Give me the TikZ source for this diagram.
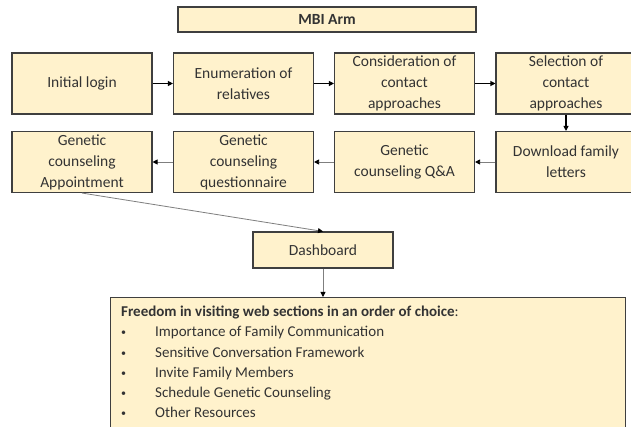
\documentclass[tikz,border=0pt]{standalone}
\usepackage{fontspec}
\setmainfont{Carlito}
\usetikzlibrary{arrows.meta}
\definecolor{boxfill}{HTML}{FFF2CC}
\definecolor{boxline}{HTML}{3F3F3F}
\definecolor{txt}{HTML}{333333}
\definecolor{lgray}{HTML}{7F7F7F}
\newcommand{\mybul}{\makebox[34pt][l]{\raisebox{1pt}{\fontsize{10}{10}\selectfont\textbullet}}}
\begin{document}
\begin{tikzpicture}[x=1pt,y=-1pt,
  box/.style={draw=boxline, fill=boxfill, line width=1.1pt, minimum width=140pt, minimum height=61pt,
    align=center, font=\fontsize{15.5}{21}\selectfont, text=txt, inner sep=0pt},
  arr/.style={-{Triangle[length=5pt,width=5pt]}, line width=1.1pt, draw=black},
  garr/.style={-{Triangle[length=5pt,width=5pt,color=black]}, line width=0.8pt, draw=lgray}]
\useasboundingbox (0,0) rectangle (631,427);
\clip (0,0) rectangle (631,427);
\fill[white] (0,0) rectangle (631,427);
\node[box, minimum width=298pt, minimum height=25pt, font=\fontsize{15.5}{21}\selectfont\bfseries] (mbi) at (327,19.5) {MBI Arm};
\node[box] (n1) at (82,83.5) {Initial login};
\node[box] (n2) at (243.5,83.5) {Enumeration of\\relatives};
\node[box] (n3) at (404.5,83.5) {Consideration of\\contact\\approaches};
\node[box] (n4) at (566,83.5) {Selection of\\contact\\approaches};
\node[box] (m4) at (566,162) {Download family\\letters};
\node[box] (m3) at (404.5,162) {Genetic\\counseling Q\&A};
\node[box] (m2) at (243.5,162) {Genetic\\counseling\\questionnaire};
\node[box] (m1) at (82,162) {Genetic\\counseling\\Appointment};
\node[box, minimum height=36pt] (d) at (323,250) {Dashboard};
\node[box, anchor=north west, minimum width=515pt, minimum height=150pt] (f) at (110,297) {};
\node[anchor=north west, align=left, text=txt, inner sep=0pt, font=\fontsize{15}{20.2}\selectfont] (ft) at (121,306)
 {\textbf{Freedom in visiting web sections in an order of choice}:\\
  \mybul Importance of Family Communication\\
  \mybul Sensitive Conversation Framework\\
  \mybul Invite Family Members\\
  \mybul Schedule Genetic Counseling\\
  \mybul Other Resources};
\draw[arr] (n1) -- (n2);
\draw[arr] (n2) -- (n3);
\draw[arr] (n3) -- (n4);
\draw[arr] (n4) -- (m4);
\draw[garr] (m4) -- (m3);
\draw[garr] (m3) -- (m2);
\draw[garr] (m2) -- (m1);
\draw[garr] (m1.south) -- (d.north);
\draw[garr] (d.south) -- (d.south |- f.north);
\end{tikzpicture}
\end{document}
